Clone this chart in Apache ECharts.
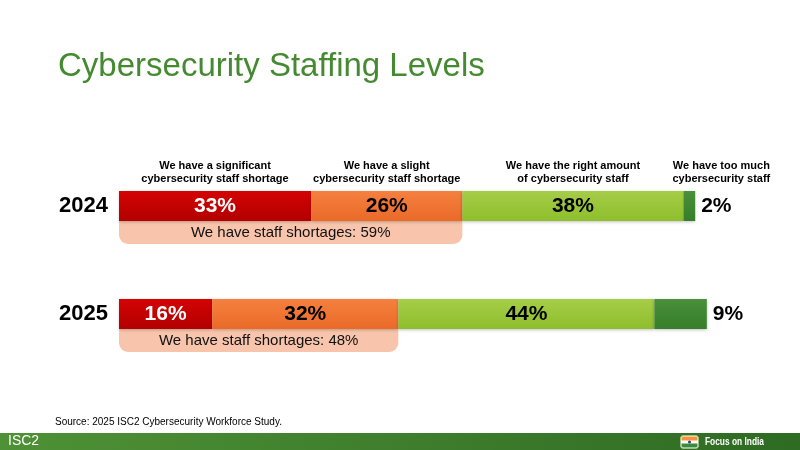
<!DOCTYPE html>
<html>
<head>
<meta charset="utf-8">
<script src="https://cdn.jsdelivr.net/npm/echarts@6/dist/echarts.min.js"></script>
<style>
  html, body { margin: 0; padding: 0; background: #fff; }
  #chart { width: 800px; height: 450px; }
</style>
</head>
<body>
<div id="chart"></div>
<script>
const years = ['2024', '2025'];
const significantShortage = [33, 16];
const slightShortage = [26, 32];
const rightAmount = [38, 44];
const tooMuch = [2, 9];
const shortageTotals = [59, 48];
const headers = [
  'We have a significant\ncybersecurity staff shortage',
  'We have a slight\ncybersecurity staff shortage',
  'We have the right amount\nof cybersecurity staff',
  'We have too much\ncybersecurity staff'
];

const FONT = '"Liberation Sans", Arial, sans-serif';
const BAR_H = 30;

function grad(top, bottom) {
  return { type: 'linear', x: 0, y: 0, x2: 0, y2: 1,
    colorStops: [{ offset: 0, color: top }, { offset: 1, color: bottom }] };
}

// header positions come from the 2024 segments
const headerData = [];
let acc = 0;
[significantShortage, slightShortage, rightAmount, tooMuch].forEach((s, i) => {
  headerData.push([acc + s[0] / 2, 0, i]);
  acc += s[0];
});

const chart = echarts.init(document.getElementById('chart'));

function valueLabel(color, pos) {
  return {
    show: true,
    position: pos || 'inside',
    distance: 6,
    formatter: '{c}%',
    color: color,
    fontFamily: FONT,
    fontWeight: 'bold',
    fontSize: 21
  };
}

function segment(name, data, color, lblColor, pos) {
  return {
    name: name,
    type: 'bar',
    stack: 'total',
    barWidth: BAR_H,
    clip: false,
    z: 3,
    data: data,
    itemStyle: { color: color, shadowColor: 'rgba(0,0,0,0.25)', shadowBlur: 3, shadowOffsetY: 1 },
    label: valueLabel(lblColor, pos)
  };
}

chart.setOption({
  animation: false,
  title: {
    text: 'Cybersecurity Staffing Levels',
    left: 53,
    top: 45,
    textStyle: { color: '#458A31', fontFamily: FONT, fontSize: 33, fontWeight: 'normal' }
  },
  grid: { left: 119, top: 152, width: 582, height: 216 },
  xAxis: { type: 'value', min: 0, max: 100, show: false },
  yAxis: {
    type: 'category',
    data: years,
    inverse: true,
    axisLine: { show: false },
    axisTick: { show: false },
    axisLabel: { color: '#000', fontFamily: FONT, fontWeight: 'bold', fontSize: 22, margin: 11 }
  },
  series: [
    {
      name: 'shortage',
      type: 'custom',
      z: 1,
      data: shortageTotals.map((v, i) => [v, i]),
      encode: { x: 0, y: 1 },
      renderItem: function (params, api) {
        const start = api.coord([0, api.value(1)]);
        const end = api.coord([api.value(0), api.value(1)]);
        const y = start[1] + BAR_H / 2 - 6;
        return {
          type: 'rect',
          shape: { x: start[0], y: y, width: end[0] - start[0], height: 29, r: [0, 0, 9, 9] },
          style: { fill: '#F8C5AC' },
          textContent: {
            style: {
              text: 'We have staff shortages: ' + api.value(0) + '%',
              fill: '#111', fontFamily: FONT, fontSize: 15
            }
          },
          textConfig: { position: 'inside', offset: [0, 3] }
        };
      }
    },
    segment('significant', significantShortage, grad('#D40303', '#B20000'), '#fff'),
    segment('slight', slightShortage, grad('#F5803F', '#EA6A28'), '#000'),
    segment('right', rightAmount, grad('#A6CD48', '#8DBE2C'), '#000'),
    segment('too much', tooMuch, grad('#4A8F3A', '#367E2B'), '#000', 'right'),
    {
      name: 'headers',
      type: 'custom',
      z: 4,
      data: headerData,
      encode: { x: 0, y: 1 },
      renderItem: function (params, api) {
        const p = api.coord([api.value(0), api.value(1)]);
        const shift = api.value(2) === 3 ? 32 : 0;
        return {
          type: 'text',
          x: p[0] + shift,
          y: p[1] - BAR_H / 2 - 6,
          style: {
            text: headers[api.value(2)],
            fill: '#000',
            fontFamily: FONT,
            fontWeight: 'bold',
            fontSize: 11,
            lineHeight: 13,
            align: 'center',
            verticalAlign: 'bottom'
          }
        };
      }
    }
  ],
  graphic: [
    {
      type: 'text', left: 55, top: 417,
      style: { text: 'Source: 2025 ISC2 Cybersecurity Workforce Study.', fill: '#000', fontFamily: FONT, fontSize: 10 }
    },
    {
      type: 'rect', left: 0, top: 433,
      shape: { width: 800, height: 17 },
      style: { fill: { type: 'linear', x: 0, y: 0, x2: 1, y2: 0,
        colorStops: [{ offset: 0, color: '#4F9136' }, { offset: 1, color: '#2E6B23' }] } }
    },
    {
      type: 'text', left: 8, top: 434,
      style: { text: 'ISC2', fill: '#fff', fontFamily: FONT, fontSize: 14 }
    },
    {
      type: 'group', left: 680, top: 435,
      children: [
        { type: 'rect', shape: { x: 0, y: 0, width: 18, height: 13, r: 3 }, style: { fill: '#fff', stroke: '#9CC08C', lineWidth: 1 } },
        { type: 'rect', shape: { x: 1, y: 1, width: 16, height: 4, r: [2, 2, 0, 0] }, style: { fill: '#F7943A' } },
        { type: 'circle', shape: { cx: 9, cy: 6.5, r: 1.5 }, style: { fill: '#2B3990' } },
        { type: 'rect', shape: { x: 1, y: 8, width: 16, height: 4, r: [0, 0, 2, 2] }, style: { fill: '#3C8B3A' } }
      ]
    },
    {
      type: 'text', x: 705, y: 436, scaleX: 0.76,
      style: { text: 'Focus on India', fill: '#fff', fontFamily: FONT, fontWeight: 'bold', fontSize: 11 }
    }
  ]
});
</script>
</body>
</html>
